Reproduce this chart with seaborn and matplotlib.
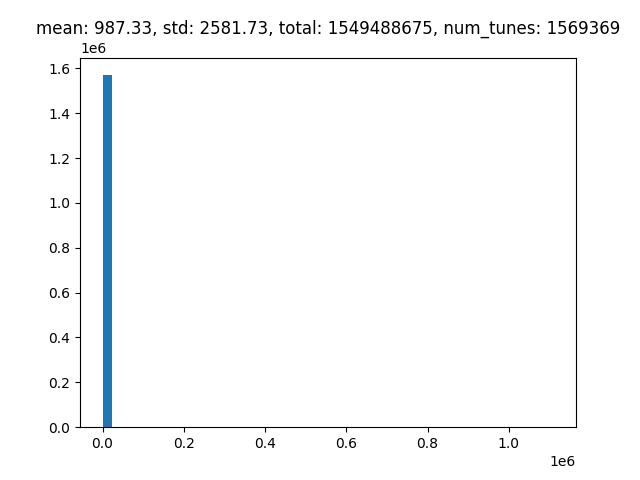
import matplotlib
matplotlib.use("Agg")
import matplotlib.pyplot as plt
import seaborn as sns

# tunes per user (representative values) and how many users fall there
tune_values = [500, 30000, 75000, 150000, 400000, 1110000]
tune_counts = [1569300, 50, 12, 4, 2, 1]

title = "mean: 987.33, std: 2581.73, total: 1549488675, num_tunes: 1569369"

fig, ax = plt.subplots(figsize=(6.4, 4.8), dpi=100)
sns.histplot(x=tune_values, weights=tune_counts, bins=50,
             binrange=(0, 1110000), color="#1f77b4", alpha=1,
             edgecolor="none", linewidth=0, ax=ax)
ax.set_title(title)
ax.set_xlabel("")
ax.set_ylabel("")

plt.savefig("out.png", dpi=100)
